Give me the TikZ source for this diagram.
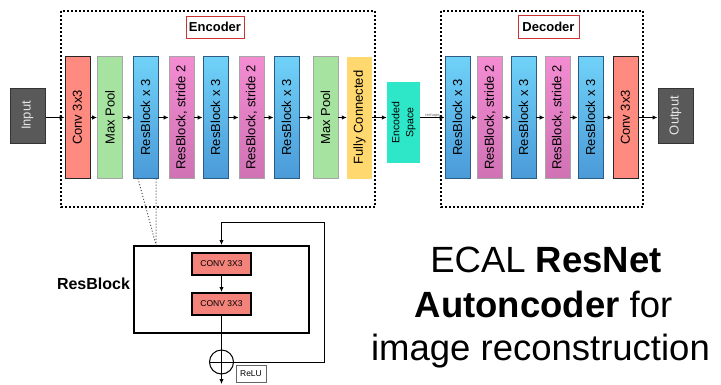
\documentclass[tikz,border=0pt]{standalone}
\usepackage{fontspec}
\setmainfont{Liberation Sans}
\usetikzlibrary{arrows.meta}
\definecolor{convred}{HTML}{FF8A80}
\definecolor{poolgreen}{HTML}{A6E3A0}
\definecolor{rbtop}{HTML}{70D2F8}
\definecolor{rbbot}{HTML}{4A9AD8}
\definecolor{pktop}{HTML}{F48CD2}
\definecolor{pkbot}{HTML}{CF72B4}
\definecolor{fcyellow}{HTML}{FFD870}
\definecolor{encteal}{HTML}{2EE6C8}
\definecolor{iogrey}{HTML}{595959}
\definecolor{lblred}{HTML}{CC3333}
\definecolor{rconv}{HTML}{F2827A}
\begin{document}
\begin{tikzpicture}[x=1pt,y=-1pt,
  lay/.style={minimum width=25pt,minimum height=122pt,inner sep=0pt,font=\fontsize{13}{15}\selectfont},
  convbox/.style={lay,fill=convred,draw=black!85,line width=1pt},
  poolbox/.style={lay,fill=poolgreen,draw=black!35,line width=0.8pt},
  rbbox/.style={lay,top color=rbtop,bottom color=rbbot,draw=rbbot!60!black,line width=0.8pt},
  s2box/.style={lay,top color=pktop,bottom color=pkbot,draw=black!35,line width=0.8pt},
  fcbox/.style={lay,fill=fcyellow},
  iobox/.style={minimum width=35pt,minimum height=55pt,inner sep=0pt,fill=iogrey,draw=black!80,line width=1pt,text=white!90!black,font=\fontsize{13}{15}\selectfont},
  arr/.style={-{Latex[length=5pt,width=4.5pt]},line width=1pt},
  frame/.style={dash pattern=on 2pt off 2pt,line width=1.1pt},
  lbl/.style={draw=lblred,line width=1pt,fill=white,font=\bfseries\fontsize{13}{15}\selectfont,inner sep=0pt},
  rconvbox/.style={minimum width=59pt,minimum height=22pt,inner sep=0pt,fill=rconv,draw=black,line width=2pt,font=\fontsize{8.5}{10}\selectfont},
  big/.style={font=\fontsize{36.5}{44}\selectfont,anchor=base,inner sep=0pt}
]
\useasboundingbox (0,0) rectangle (721,384);
% frames
\draw[frame] (61,11) rectangle (375,207);
\draw[frame] (441,11) rectangle (643,207);
\node[lbl,minimum width=58pt,minimum height=22pt] (enc) at (215,27) {Encoder};
\node[lbl,minimum width=61pt,minimum height=23pt] (dec) at (548.5,26.5) {Decoder};
% input/output
\node[iobox] (in) at (27.5,115.5) {\rotatebox{90}{Input}};
\node[iobox] (out) at (675.5,115.5) {\rotatebox{90}{Output}};
% encoder
\node[convbox] (e1) at (77.5,117.5) {\rotatebox{90}{Conv 3x3}};
\node[poolbox] (e2) at (110,117.5) {\rotatebox{90}{Max Pool}};
\node[rbbox] (e3) at (145.5,117.5) {\rotatebox{90}{ResBlock x 3}};
\node[s2box] (e4) at (181.5,117.5) {\rotatebox{90}{ResBlock, stride 2}};
\node[rbbox] (e5) at (215.5,117.5) {\rotatebox{90}{ResBlock x 3}};
\node[s2box] (e6) at (251.5,117.5) {\rotatebox{90}{ResBlock, stride 2}};
\node[rbbox] (e7) at (286.5,117.5) {\rotatebox{90}{ResBlock x 3}};
\node[poolbox] (e8) at (325.5,117.5) {\rotatebox{90}{Max Pool}};
\node[fcbox] (e9) at (359.5,117.5) {\rotatebox{90}{Fully Connected}};
% encoded space
\node[fill=encteal,minimum width=33pt,minimum height=81pt,inner sep=0pt,font=\fontsize{10.5}{14}\selectfont] (es) at (403.5,122.5) {\rotatebox{90}{\begin{tabular}{@{}c@{}}Encoded\\Space\end{tabular}}};
% decoder
\node[rbbox] (d1) at (457.5,117.5) {\rotatebox{90}{ResBlock x 3}};
\node[s2box] (d2) at (490,117.5) {\rotatebox{90}{ResBlock, stride 2}};
\node[rbbox] (d3) at (523.5,117.5) {\rotatebox{90}{ResBlock x 3}};
\node[s2box] (d4) at (557.5,117.5) {\rotatebox{90}{ResBlock, stride 2}};
\node[rbbox] (d5) at (590.5,117.5) {\rotatebox{90}{ResBlock x 3}};
\node[convbox] (d6) at (625.5,117.5) {\rotatebox{90}{Conv 3x3}};
% arrows
\draw[arr] (in.east |- e1.west) -- (e1.west);
\foreach \a/\b in {e1/e2,e2/e3,e3/e4,e4/e5,e5/e6,e6/e7,e7/e8,e8/e9,d1/d2,d2/d3,d3/d4,d4/d5,d5/d6}
  \draw[arr] (\a.east) -- (\b.west);
\draw[arr] (e9.east) -- (e9.east -| es.west);
\draw[arr] (es.east |- d1.west) -- node[above=-1pt,font=\fontsize{4}{5}\selectfont,text=black!60,inner sep=1pt] {reshape} (d1.west);
\draw[arr] (d6.east) -- (d6.east -| out.west);
% resblock detail
\node[draw=black,line width=2pt,minimum width=175pt,minimum height=87pt,inner sep=0pt] (rb) at (221.5,289.5) {};
\node[rconvbox] (c1) at (221.5,264) {CONV 3X3};
\node[rconvbox] (c2) at (221.5,304) {CONV 3X3};
\node[font=\bfseries\fontsize{16}{19}\selectfont,inner sep=0pt] (rbl) at (93.5,284) {ResBlock};
\node[draw,circle,line width=1pt,minimum size=24pt,inner sep=0pt] (plus) at (221.5,362) {};
\draw[line width=1pt] (plus.north) -- (plus.south) (plus.west) -- (plus.east);
\node[draw=black!60,line width=0.8pt,fill=white,minimum width=30pt,minimum height=17pt,inner sep=0pt,font=\fontsize{8.5}{10}\selectfont] (relu) at (251,373.5) {ReLU};
\coordinate (top) at (221.5,222);
\coordinate (bot) at (221.5,384);
\draw[arr] (top) -- (rb.north);
\draw[line width=1pt] (top) -- (324,222) |- (plus.east);
\draw[arr] (c1) -- (c2);
\draw[line width=1pt] (c2.south) -- (plus.north);
\draw[arr] (plus.south) -- (bot);
% dotted zoom lines
\coordinate (z1) at (138,178.5);
\coordinate (z2) at (156,178.5);
\coordinate (zb) at (156,245);
\draw[dotted,line width=1pt,black!70] (z1) -- (zb) (z2) -- (zb);
% title text
\node[big] (t1) at (546,272) {ECAL \textbf{ResNet}};
\node[big] (t2) at (543.5,317) {\textbf{Autoncoder} for};
\node[big] (t3) at (540.5,360) {image reconstruction};
\end{tikzpicture}
\end{document}
